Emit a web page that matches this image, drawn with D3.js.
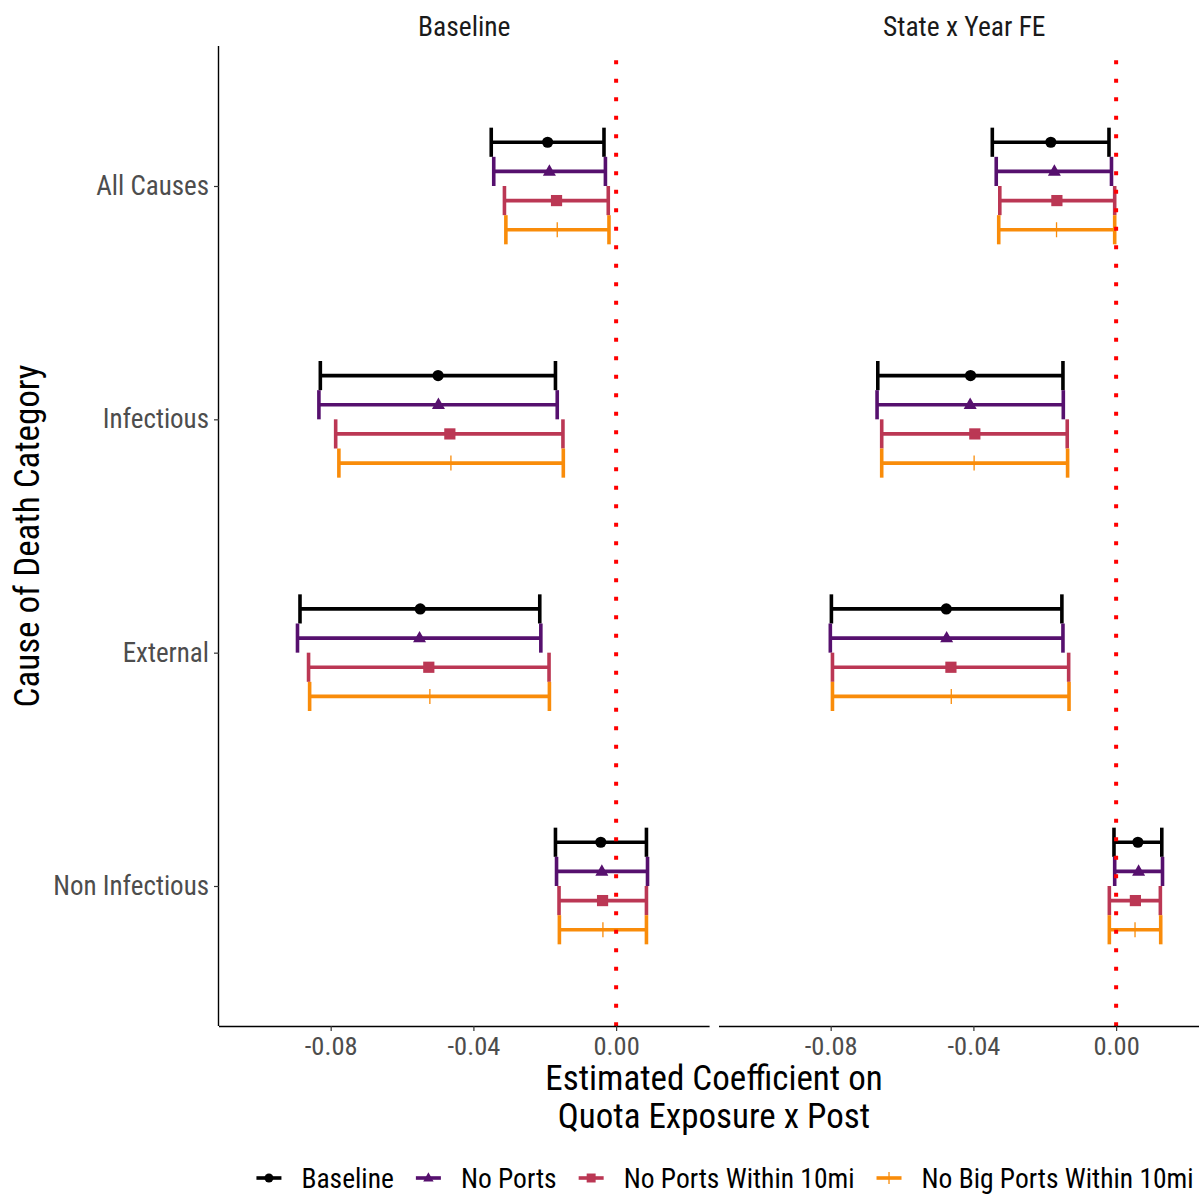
<!DOCTYPE html>
<html>
<head>
<meta charset="utf-8">
<script src="https://cdn.jsdelivr.net/npm/d3@7"></script>
<style>
  body { margin: 0; background: #fff; }
  text { font-family: "Roboto Condensed", "Liberation Sans Narrow", Roboto, sans-serif; }
</style>
</head>
<body>
<div class="chart-container"></div>
<script>
(function(){

var categories = ["All Causes", "Infectious", "External", "Non Infectious"];
var seriesNames = ["Baseline", "No Ports", "No Ports Within 10mi", "No Big Ports Within 10mi"];
var seriesColors = ["#000000", "#56106E", "#BB3754", "#F98C0A"];
var seriesShapes = ["circle", "triangle", "square", "plus"];
var facetNames = ["Baseline", "State x Year FE"];
var xTicks = [-0.08, -0.04, 0.00];
var xTickLabels = ["-0.08", "-0.04", "0.00"];

// rows = series, columns = categories
var baselineEst = [
  [-0.0192, -0.0499, -0.0549, -0.0043],
  [-0.0187, -0.0498, -0.0551, -0.0040],
  [-0.0167, -0.0466, -0.0525, -0.0038],
  [-0.0165, -0.0463, -0.0522, -0.0037]
];
var baselineLo = [
  [-0.0350, -0.0829, -0.0886, -0.0170],
  [-0.0343, -0.0833, -0.0893, -0.0167],
  [-0.0313, -0.0786, -0.0862, -0.0160],
  [-0.0309, -0.0777, -0.0859, -0.0159]
];
var baselineHi = [
  [-0.0034, -0.0170, -0.0214, 0.0085],
  [-0.0030, -0.0165, -0.0211, 0.0088],
  [-0.0022, -0.0149, -0.0188, 0.0085],
  [-0.0020, -0.0148, -0.0187, 0.0085]
];

var stateEst = [
  [-0.0183, -0.0408, -0.0476, 0.0061],
  [-0.0173, -0.0409, -0.0475, 0.0063],
  [-0.0166, -0.0396, -0.0463, 0.0054],
  [-0.0167, -0.0398, -0.0462, 0.0053]
];
var stateLo = [
  [-0.0347, -0.0668, -0.0798, -0.0006],
  [-0.0336, -0.0670, -0.0801, -0.0004],
  [-0.0326, -0.0657, -0.0795, -0.0019],
  [-0.0329, -0.0657, -0.0795, -0.0019]
];
var stateHi = [
  [-0.0020, -0.0149, -0.0152, 0.0128],
  [-0.0013, -0.0148, -0.0149, 0.0130],
  [-0.0004, -0.0137, -0.0133, 0.0124],
  [-0.0004, -0.0136, -0.0132, 0.0125]
];

var facetData = [
  {est: baselineEst, lo: baselineLo, hi: baselineHi},
  {est: stateEst, lo: stateLo, hi: stateHi}
];

window.onload = setChart();

function setChart(){

  var width = 1199,
      height = 1194;

  var svg = d3.select(".chart-container")
    .append("svg")
    .attr("width", width)
    .attr("height", height);

  var panelTop = 46,
      panelBottom = 1026,
      panelWidth = 490.6,
      panelLefts = [219, 719];

  var y = d3.scalePoint()
    .domain(categories)
    .range([panelTop, panelBottom])
    .padding(0.6);

  var dodge = d3.scaleBand()
    .domain(seriesNames)
    .range([-y.step() * 0.25, y.step() * 0.25]);

  facetNames.forEach(function(name, f){

    var x0 = panelLefts[f];
    var x = d3.scaleLinear()
      .domain([-0.1113, 0.0262])
      .range([x0, x0 + panelWidth]);

    var panel = svg.append("g").attr("class", "panel");

    // strip label
    svg.append("text")
      .attr("x", x0 + panelWidth / 2)
      .attr("y", 26)
      .attr("dy", "0.35em")
      .attr("text-anchor", "middle")
      .style("font-size", "27.5px")
      .style("fill", "#1a1a1a")
      .text(name);

    // x axis
    var xAxis = svg.append("g")
      .attr("transform", "translate(0," + panelBottom + ")")
      .call(d3.axisBottom(x).tickValues(xTicks).tickSize(5).tickPadding(5)
        .tickFormat(function(v, i){ return xTickLabels[i]; }));
    xAxis.select(".domain").attr("stroke", "#000").attr("stroke-width", 1.4)
      .attr("d", "M" + x0 + ",0.5H" + (x0 + panelWidth));
    xAxis.selectAll(".tick line").attr("stroke", "#333").attr("stroke-width", 1.2);
    xAxis.selectAll(".tick text")
      .style("font-size", "26.5px")
      .style("fill", "#4d4d4d");

    // y axis only on left panel
    if (f === 0){
      var yAxis = svg.append("g")
        .attr("transform", "translate(" + x0 + ",0)")
        .call(d3.axisLeft(y).tickSize(5).tickPadding(5));
      yAxis.select(".domain").attr("stroke", "#000").attr("stroke-width", 1.4)
        .attr("d", "M-0.5," + panelTop + "V" + panelBottom);
      yAxis.selectAll(".tick line").attr("stroke", "#333").attr("stroke-width", 1.2);
      yAxis.selectAll(".tick text")
        .style("font-size", "27px")
        .style("fill", "#4d4d4d");
    }

    var d = facetData[f];
    var rows = [];
    seriesNames.forEach(function(s, i){
      categories.forEach(function(c, j){
        rows.push({series: s, idx: i, cat: c, est: d.est[i][j], lo: d.lo[i][j], hi: d.hi[i][j]});
      });
    });

    var cap = dodge.bandwidth();
    var groups = panel.selectAll(".bar")
      .data(rows)
      .enter()
      .append("g")
      .attr("class", "bar")
      .attr("transform", function(r){
        return "translate(0," + (y(r.cat) + dodge(r.series) + cap / 2) + ")";
      })
      .style("stroke", function(r){ return seriesColors[r.idx]; })
      .style("fill", function(r){ return seriesColors[r.idx]; });

    groups.append("line")
      .attr("x1", function(r){ return x(r.lo); })
      .attr("x2", function(r){ return x(r.hi); })
      .attr("stroke-width", 3.6);
    groups.append("line")
      .attr("x1", function(r){ return x(r.lo); })
      .attr("x2", function(r){ return x(r.lo); })
      .attr("y1", -cap / 2).attr("y2", cap / 2)
      .attr("stroke-width", 3.6);
    groups.append("line")
      .attr("x1", function(r){ return x(r.hi); })
      .attr("x2", function(r){ return x(r.hi); })
      .attr("y1", -cap / 2).attr("y2", cap / 2)
      .attr("stroke-width", 3.6);

    groups.each(function(r){
      drawShape(d3.select(this), seriesShapes[r.idx], x(r.est), 0, 1);
    });

    // zero reference line
    panel.append("line")
      .attr("x1", x(0)).attr("x2", x(0))
      .attr("y1", panelTop).attr("y2", panelBottom)
      .attr("stroke", "red")
      .attr("stroke-width", 4)
      .attr("stroke-dasharray", "4 14.5")
      .attr("stroke-dashoffset", 4.2);
  });

  // axis titles
  var xTitle = svg.append("text")
    .attr("text-anchor", "middle")
    .style("font-size", "35px")
    .style("fill", "#000");
  xTitle.append("tspan").attr("x", 714).attr("y", 1090).text("Estimated Coefficient on");
  xTitle.append("tspan").attr("x", 714).attr("y", 1128).text("Quota Exposure x Post");

  svg.append("text")
    .attr("transform", "translate(39," + ((panelTop + panelBottom) / 2) + ") rotate(-90)")
    .attr("text-anchor", "middle")
    .style("font-size", "35px")
    .style("fill", "#000")
    .text("Cause of Death Category");

  setLegend(svg);
};

function drawShape(g, shape, cx, cy, scale){
  if (shape === "circle"){
    g.append("circle").attr("cx", cx).attr("cy", cy).attr("r", 5.6 * scale).style("stroke", "none");
  } else if (shape === "triangle"){
    var s = 6.5 * scale;
    g.append("path")
      .attr("d", "M" + cx + "," + (cy - s * 1.1) + "L" + (cx + s) + "," + (cy + s * 0.65) + "L" + (cx - s) + "," + (cy + s * 0.65) + "Z")
      .style("stroke", "none");
  } else if (shape === "square"){
    var h = 5.6 * scale;
    g.append("rect").attr("x", cx - h).attr("y", cy - h).attr("width", 2 * h).attr("height", 2 * h).style("stroke", "none");
  } else {
    var p = 7.5 * scale;
    g.append("path")
      .attr("d", "M" + (cx - p) + "," + cy + "H" + (cx + p) + "M" + cx + "," + (cy - p) + "V" + (cy + p))
      .attr("stroke-width", 1.3)
      .style("fill", "none");
  }
};

function setLegend(svg){
  var legend = svg.append("g").attr("class", "legend");
  var ly = 1178;
  var cursor = 0;
  seriesNames.forEach(function(s, i){
    var item = legend.append("g")
      .attr("transform", "translate(" + cursor + "," + ly + ")")
      .style("stroke", seriesColors[i])
      .style("fill", seriesColors[i]);
    item.append("line").attr("x1", 0).attr("x2", 25).attr("stroke-width", 3.6);
    drawShape(item, seriesShapes[i], 12.5, 0, 0.8);
    var t = item.append("text")
      .attr("x", 45)
      .attr("dy", "0.35em")
      .style("font-size", "27.5px")
      .style("fill", "#000")
      .style("stroke", "none")
      .text(s);
    cursor += 45 + t.node().getComputedTextLength() + 22;
  });
  var total = cursor - 22;
  legend.attr("transform", "translate(" + (725 - total / 2) + ",0)");
};

})();
</script>
</body>
</html>
